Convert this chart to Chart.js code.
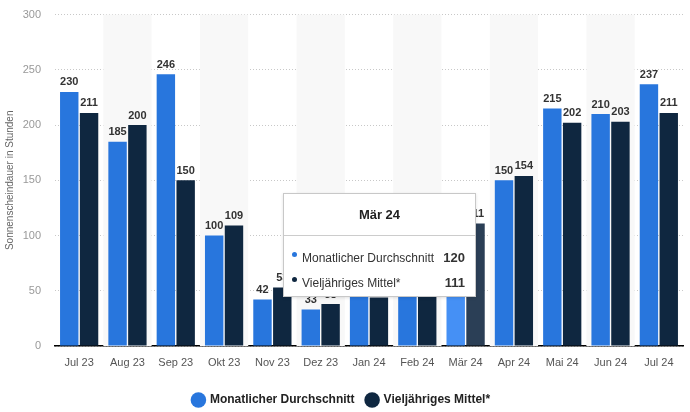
<!DOCTYPE html>
<html>
<head>
<meta charset="utf-8">
<script src="https://cdn.jsdelivr.net/npm/chart.js@4.4.1/dist/chart.umd.min.js"></script>
<style>
  html, body { margin: 0; padding: 0; background: #fff; }
  #wrap { position: relative; width: 690px; height: 412px; }
  #tip {
    position: absolute; left: 283px; top: 193px; width: 193px; height: 104px;
    background: #fff; border: 1px solid #c8c8c8; box-shadow: 0 1px 3px rgba(0,0,0,0.12);
    font-family: Arial, "Liberation Sans", sans-serif; color: #333; display: none;
    box-sizing: border-box;
  }
  #tip .t { text-align: center; font-weight: bold; font-size: 13px; color: #222; height: 41px; line-height: 42px; border-bottom: 1px solid #ccc; }
  #tip .r { display: flex; align-items: center; font-size: 12px; padding: 0 10px 0 8px; height: 25px; }
  #tip .r.first { margin-top: 9px; }
  #tip .d { width: 5px; height: 5px; border-radius: 50%; margin-right: 5px; position: relative; top: -3px; }
  #tip .l { flex: 1; }
  #tip .v { font-weight: bold; font-size: 13px; }
</style>
</head>
<body>
<div id="wrap">
  <canvas id="chart" width="690" height="412"></canvas>
  <div id="tip"></div>
</div>
<script>
// Kategorien (Monate)
const months = ["Jul 23", "Aug 23", "Sep 23", "Okt 23", "Nov 23", "Dez 23", "Jan 24", "Feb 24", "Mär 24", "Apr 24", "Mai 24", "Jun 24", "Jul 24"];
// Monatlicher Durchschnitt (Stunden)
const monthly = [230, 185, 246, 100, 42, 33, 55, 60, 120, 150, 215, 210, 237];
// Vieljähriges Mittel (Stunden)
const longTerm = [211, 200, 150, 109, 53, 38, 44, 73, 111, 154, 202, 203, 211];
const yTicks = [0, 50, 100, 150, 200, 250, 300];
const seriesNames = ["Monatlicher Durchschnitt", "Vieljähriges Mittel*"];
const activeIndex = 8;

const blue = "#2876dd", dark = "#0f2740";

// graue Streifen hinter jedem zweiten Monat
const stripes = {
  id: "stripes",
  beforeDatasetsDraw(chart) {
    const { ctx, chartArea, scales } = chart;
    const x = scales.x;
    const w = x.width / months.length;
    ctx.save();
    ctx.fillStyle = "#f8f8f8";
    months.forEach((m, i) => {
      if (i % 2 === 1) {
        const cx = x.getPixelForValue(i);
        ctx.fillRect(cx - w / 2, chartArea.top, w, chartArea.bottom - chartArea.top);
      }
    });
    ctx.restore();
  }
};

// Werte über den Balken
const valueLabels = {
  id: "valueLabels",
  afterDatasetsDraw(chart) {
    const ctx = chart.ctx;
    ctx.save();
    ctx.font = "bold 11px Arial, 'Liberation Sans', sans-serif";
    ctx.fillStyle = "#333";
    ctx.textAlign = "center";
    ctx.textBaseline = "bottom";
    chart.data.datasets.forEach((ds, di) => {
      chart.getDatasetMeta(di).data.forEach((bar, i) => {
        ctx.fillText(ds.data[i], bar.x, bar.y - 4);
      });
    });
    ctx.restore();
  }
};

const tipEl = document.getElementById("tip");
function externalTip(context) {
  const tt = context.tooltip;
  if (tt.opacity === 0) { tipEl.style.display = "none"; return; }
  const idx = tt.dataPoints[0].dataIndex;
  let html = `<div class="t">${months[idx]}</div>`;
  tt.dataPoints.forEach((p, k) => {
    const c = p.datasetIndex === 0 ? blue : dark;
    html += `<div class="r${k === 0 ? " first" : ""}"><span class="d" style="background:${c}"></span><span class="l">${seriesNames[p.datasetIndex]}</span><span class="v">${p.raw}</span></div>`;
  });
  tipEl.innerHTML = html;
  tipEl.style.display = "block";
}

const font = "Arial, 'Liberation Sans', sans-serif";

const chart = new Chart(document.getElementById("chart"), {
  type: "bar",
  plugins: [stripes, valueLabels],
  data: {
    labels: months,
    datasets: [
      { label: seriesNames[0], data: monthly, backgroundColor: blue, hoverBackgroundColor: "#4590f5", borderWidth: 0 },
      { label: seriesNames[1], data: longTerm, backgroundColor: dark, hoverBackgroundColor: "#2b3f56", borderWidth: 0 }
    ]
  },
  options: {
    responsive: false,
    animation: false,
    events: [],
    layout: { padding: { top: 0, right: 7, left: 0, bottom: 0 } },
    datasets: { bar: { categoryPercentage: 0.82, barPercentage: 0.93 } },
    interaction: { mode: "index", intersect: false },
    scales: {
      x: {
        grid: { display: false, drawTicks: false },
        border: { color: "#000", width: 1.5 },
        ticks: { color: "#555", padding: 10, font: { size: 11, family: font } },
        afterFit(axis) { axis.height = 36; }
      },
      y: {
        min: 0, max: 300,
        afterBuildTicks(axis) { axis.ticks = yTicks.map(v => ({ value: v })); },
        grid: { color: "#c8c8c8", drawTicks: true, tickLength: 6, tickColor: "rgba(0,0,0,0)", lineWidth: 1 },
        border: { display: false, dash: [1, 2] },
        ticks: { color: "#999", padding: 8, font: { size: 11, family: font } },
        title: { display: true, text: "Sonnenscheindauer in Stunden", color: "#666", padding: { top: 4, bottom: 2 },
          font: { size: 10, family: font } },
        afterFit(axis) { axis.width = 55; }
      }
    },
    plugins: {
      legend: {
        position: "bottom",
        maxHeight: 30,
        labels: {
          usePointStyle: true, pointStyle: "circle", boxWidth: 11, boxHeight: 11, padding: 12,
          color: "#222", font: { size: 12, weight: "bold", family: font }
        }
      },
      tooltip: { enabled: false, external: externalTip }
    }
  }
});

chart.setActiveElements([{ datasetIndex: 0, index: activeIndex }, { datasetIndex: 1, index: activeIndex }]);
chart.tooltip.setActiveElements([{ datasetIndex: 0, index: activeIndex }, { datasetIndex: 1, index: activeIndex }], { x: 0, y: 0 });
chart.update();
</script>
</body>
</html>
